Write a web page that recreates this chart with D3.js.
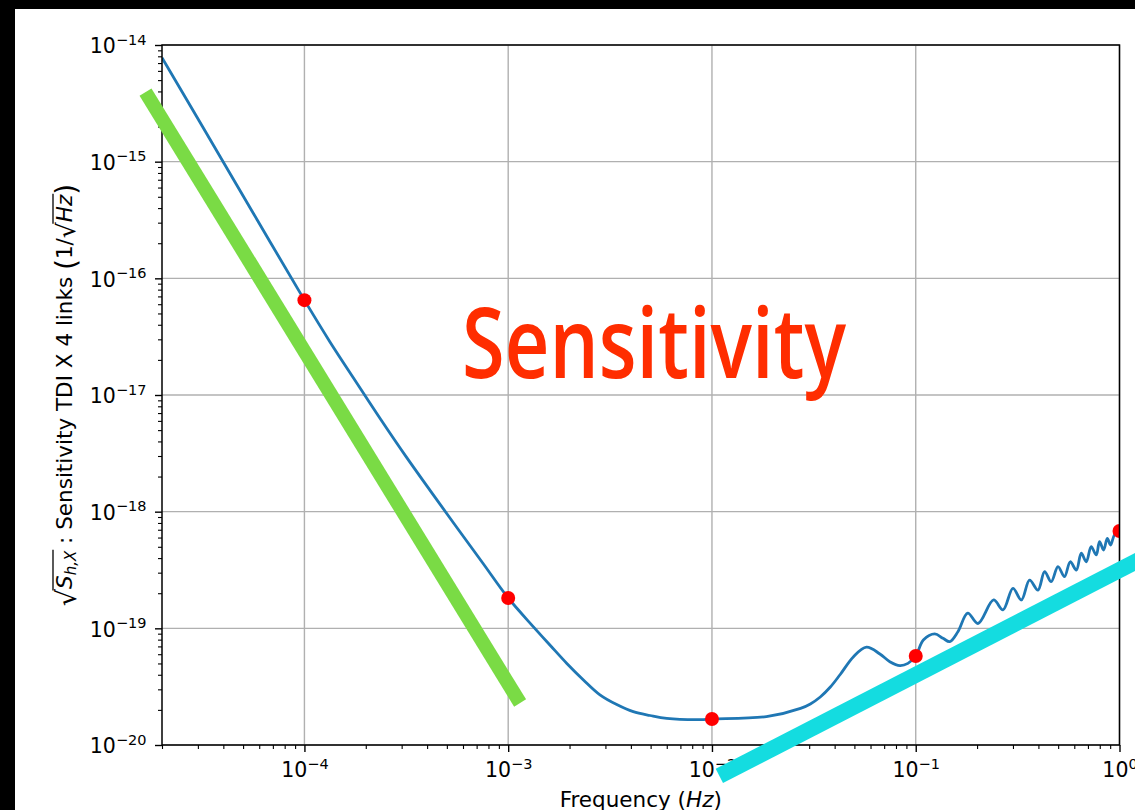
<!DOCTYPE html>
<html><head><meta charset="utf-8">
<script src="https://cdn.jsdelivr.net/npm/d3@7"></script>
<style>body{margin:0;background:#000;} svg{display:block}</style>
</head><body>
<svg id="chart" width="1135" height="810"></svg>
<script>
// ---- data ----
const freqs = [2e-5, 3.16e-5, 5.62e-5, 1e-4, 1.33e-4, 1.78e-4, 2.37e-4, 3.16e-4, 4.22e-4, 5.62e-4,
  7.5e-4, 1e-3, 1.33e-3, 1.61e-3, 1.94e-3, 2.34e-3, 2.82e-3, 3.41e-3, 4.11e-3, 4.97e-3,
  6.0e-3, 8.73e-3, 1e-2, 1.85e-2, 2.72e-2, 3.04e-2, 3.40e-2, 3.81e-2, 4.26e-2, 4.95e-2,
  5.73e-2, 6.67e-2, 7.46e-2, 8.36e-2, 9.16e-2, 0.1, 0.109, 0.124, 0.136, 0.147,
  0.161, 0.180, 0.202, 0.241, 0.268, 0.300, 0.330, 0.362, 0.398, 0.429,
  0.462, 0.499, 0.537, 0.573, 0.614, 0.649, 0.687, 0.726, 0.769, 0.798,
  0.836, 0.871, 0.904, 0.944, 1.0];
const sensitivity = [7.78e-15, 2.0e-15, 3.6e-16, 6.5e-17, 2.88e-17, 1.32e-17, 6.17e-18, 2.95e-18, 1.45e-18, 7.24e-19,
  3.63e-19, 1.82e-19, 1.03e-19, 7.13e-20, 5.0e-20, 3.61e-20, 2.69e-20, 2.22e-20, 1.93e-20, 1.79e-20,
  1.69e-20, 1.65e-20, 1.67e-20, 1.75e-20, 2.06e-20, 2.25e-20, 2.58e-20, 3.14e-20, 4.02e-20, 5.71e-20,
  6.89e-20, 6.03e-20, 5.18e-20, 4.79e-20, 5.01e-20, 5.79e-20, 7.94e-20, 8.95e-20, 8.22e-20, 7.69e-20,
  9.35e-20, 1.35e-19, 1.10e-19, 1.75e-19, 1.44e-19, 2.20e-19, 1.75e-19, 2.59e-19, 2.13e-19, 3.06e-19,
  2.51e-19, 3.38e-19, 2.77e-19, 3.72e-19, 3.16e-19, 4.40e-19, 3.72e-19, 5.01e-19, 4.26e-19, 5.53e-19,
  4.69e-19, 5.90e-19, 5.18e-19, 6.31e-19, 6.82e-19];
const markerFreqs = [1e-4, 1e-3, 1e-2, 1e-1, 1];
const markerValues = [6.5e-17, 1.82e-19, 1.67e-20, 5.79e-20, 6.82e-19];
const greenFreqs = [1.66e-5, 1.144e-3];
const greenValues = [3.95e-15, 2.29e-20];
const cyanFreqs = [1.087e-2, 1.416];
const cyanValues = [5.43e-21, 4.32e-19];
const xTickExps = [-4, -3, -2, -1, 0];
const yTickExps = [-20, -19, -18, -17, -16, -15, -14];
const overlayText = "Sensitivity";
const xLabelParts = ["Frequency (", "Hz", ")"];
const yLabelMain = " : Sensitivity TDI X 4 links ";

// ---- drawing ----
const W = 1135, H = 810;
const L = 162, R = 1119.5, T = 45, B = 745;
const svg = d3.select("#chart");
const FONT = "DejaVu Sans";
const TICK_FS = 20.5, EXP_FS = 14.5, LABEL_FS = 21.5;

svg.append("rect").attr("width", W).attr("height", H).attr("fill", "#000");
svg.append("rect").attr("x", 15).attr("y", 9).attr("width", W - 15).attr("height", H - 9).attr("fill", "#fff");

const x = d3.scaleLog().domain([2e-5, 1]).range([L, R]);
const y = d3.scaleLog().domain([1e-20, 1e-14]).range([B, T]);

svg.append("defs").append("clipPath").attr("id", "clip")
  .append("rect").attr("x", L).attr("y", T).attr("width", R - L).attr("height", B - T);

const xMajor = xTickExps.map(e => Math.pow(10, e));
const yMajor = yTickExps.map(e => Math.pow(10, e));
const isPow10 = v => Math.abs(Math.log10(v) - Math.round(Math.log10(v))) < 1e-9;
const xMinor = x.ticks().filter(v => !isPow10(v));
const yMinor = y.ticks().filter(v => !isPow10(v));

// grid
const grid = svg.append("g").attr("stroke", "#b0b0b0").attr("stroke-width", 1.4);
grid.selectAll(".gx").data(xMajor).join("line")
  .attr("x1", d => x(d)).attr("x2", d => x(d)).attr("y1", T).attr("y2", B);
grid.selectAll(".gy").data(yMajor).join("line")
  .attr("y1", d => y(d)).attr("y2", d => y(d)).attr("x1", L).attr("x2", R);

// curve
const plot = svg.append("g").attr("clip-path", "url(#clip)");
const pts = freqs.map((f, i) => ({f, v: sensitivity[i]}));
plot.append("path").datum(pts)
  .attr("fill", "none").attr("stroke", "#1f77b4").attr("stroke-width", 2.8)
  .attr("stroke-linejoin", "round")
  .attr("d", d3.line().x(d => x(d.f)).y(d => y(d.v)).curve(d3.curveCatmullRom.alpha(0.5)));
plot.selectAll("circle").data(markerFreqs.map((f, i) => ({f, v: markerValues[i]}))).join("circle")
  .attr("cx", d => x(d.f)).attr("cy", d => y(d.v)).attr("r", 7).attr("fill", "#ff0000");

// axes
function styleAxis(g) {
  g.select(".domain").remove();
  g.attr("font-family", FONT).attr("font-size", TICK_FS);
  g.selectAll(".tick line").attr("stroke", "#000");
}
function expLabel(sel, d) {
  sel.append("tspan").text("10");
  sel.append("tspan").attr("dy", -8.5).attr("font-size", EXP_FS)
    .text(String(Math.round(Math.log10(d))).replace("-", "\u2212"));
}
const xAxisMinor = svg.append("g").attr("transform", `translate(0,${B})`)
  .call(d3.axisBottom(x).tickValues(xMinor).tickSize(4).tickFormat(""));
styleAxis(xAxisMinor);
xAxisMinor.selectAll(".tick line").attr("stroke-width", 1.1);
const xAxis = svg.append("g").attr("transform", `translate(0,${B})`)
  .call(d3.axisBottom(x).tickValues(xMajor).tickSize(7));
styleAxis(xAxis);
xAxis.selectAll(".tick line").attr("stroke-width", 1.4);
xAxis.selectAll(".tick text").each(function(d) {
  const t = d3.select(this).text(null).attr("y", 32).attr("dy", null).attr("fill", "#000");
  expLabel(t, d);
});

const yAxisMinor = svg.append("g").attr("transform", `translate(${L},0)`)
  .call(d3.axisLeft(y).tickValues(yMinor).tickSize(4).tickFormat(""));
styleAxis(yAxisMinor);
yAxisMinor.selectAll(".tick line").attr("stroke-width", 1.1);
const yAxis = svg.append("g").attr("transform", `translate(${L},0)`)
  .call(d3.axisLeft(y).tickValues(yMajor).tickSize(7));
styleAxis(yAxis);
yAxis.selectAll(".tick line").attr("stroke-width", 1.4);
yAxis.selectAll(".tick text").each(function(d) {
  const t = d3.select(this).text(null).attr("x", -15.5).attr("y", 7.8).attr("dy", null).attr("fill", "#000");
  expLabel(t, d);
});

// spines
svg.append("rect").attr("x", L).attr("y", T).attr("width", R - L).attr("height", B - T)
  .attr("fill", "none").attr("stroke", "#000").attr("stroke-width", 1.5);

// x label
const xl = svg.append("text").attr("x", (L + R) / 2).attr("y", 807)
  .attr("text-anchor", "middle").attr("font-family", FONT).attr("font-size", LABEL_FS).attr("fill", "#000");
xl.append("tspan").text(xLabelParts[0]);
xl.append("tspan").attr("font-style", "italic").text(xLabelParts[1]);
xl.append("tspan").text(xLabelParts[2]);

// y label (rotated)
const ylOuter = svg.append("g").attr("transform", `translate(72,${(T + B) / 2}) rotate(-90)`);
const ylab = ylOuter.append("g").attr("font-family", FONT).attr("fill", "#000");
const pieces = [
  {t: "\u221A", size: 27, dy: 4},
  {t: "S", size: LABEL_FS, style: "italic", over: "a"},
  {t: "h,X", size: 15, style: "italic", dy: 4, over: "a"},
  {t: yLabelMain, size: LABEL_FS},
  {t: "(", size: 28, dy: 4},
  {t: "1/", size: LABEL_FS},
  {t: "\u221A", size: 25, dy: 3},
  {t: "Hz", size: LABEL_FS, style: "italic", over: "b"},
  {t: ")", size: 28, dy: 4}
];
let cx = 0;
pieces.forEach(p => {
  const t = ylab.append("text").attr("x", cx).attr("y", p.dy || 0)
    .attr("font-size", p.size).attr("font-style", p.style || "normal")
    .attr("xml:space", "preserve").style("white-space", "pre").text(p.t);
  const w = t.node().getComputedTextLength();
  p.x0 = cx; p.x1 = cx + w; cx += w;
});
["a", "b"].forEach(k => {
  const ps = pieces.filter(p => p.over === k);
  ylab.append("line").attr("x1", ps[0].x0 - 1.5).attr("x2", ps[ps.length - 1].x1 + 1)
    .attr("y1", -19).attr("y2", -19).attr("stroke", "#000").attr("stroke-width", 1.3);
});
ylab.attr("transform", `translate(${-cx / 2},0)`);

// overlays
svg.append("line")
  .attr("x1", x(greenFreqs[0])).attr("y1", y(greenValues[0]))
  .attr("x2", x(greenFreqs[1])).attr("y2", y(greenValues[1]))
  .attr("stroke", "#7adb45").attr("stroke-width", 14).attr("stroke-linecap", "butt");
svg.append("line")
  .attr("x1", x(cyanFreqs[0])).attr("y1", y(cyanValues[0]))
  .attr("x2", x(cyanFreqs[1])).attr("y2", y(cyanValues[1]))
  .attr("stroke", "#14dce0").attr("stroke-width", 16).attr("stroke-linecap", "butt");
svg.append("text").attr("x", 462).attr("y", 378)
  .attr("font-family", "Open Sans").attr("font-weight", 600).attr("font-size", 98)
  .attr("fill", "#ff2d00").attr("textLength", 384).attr("lengthAdjust", "spacingAndGlyphs")
  .text(overlayText);
</script>
</body></html>
